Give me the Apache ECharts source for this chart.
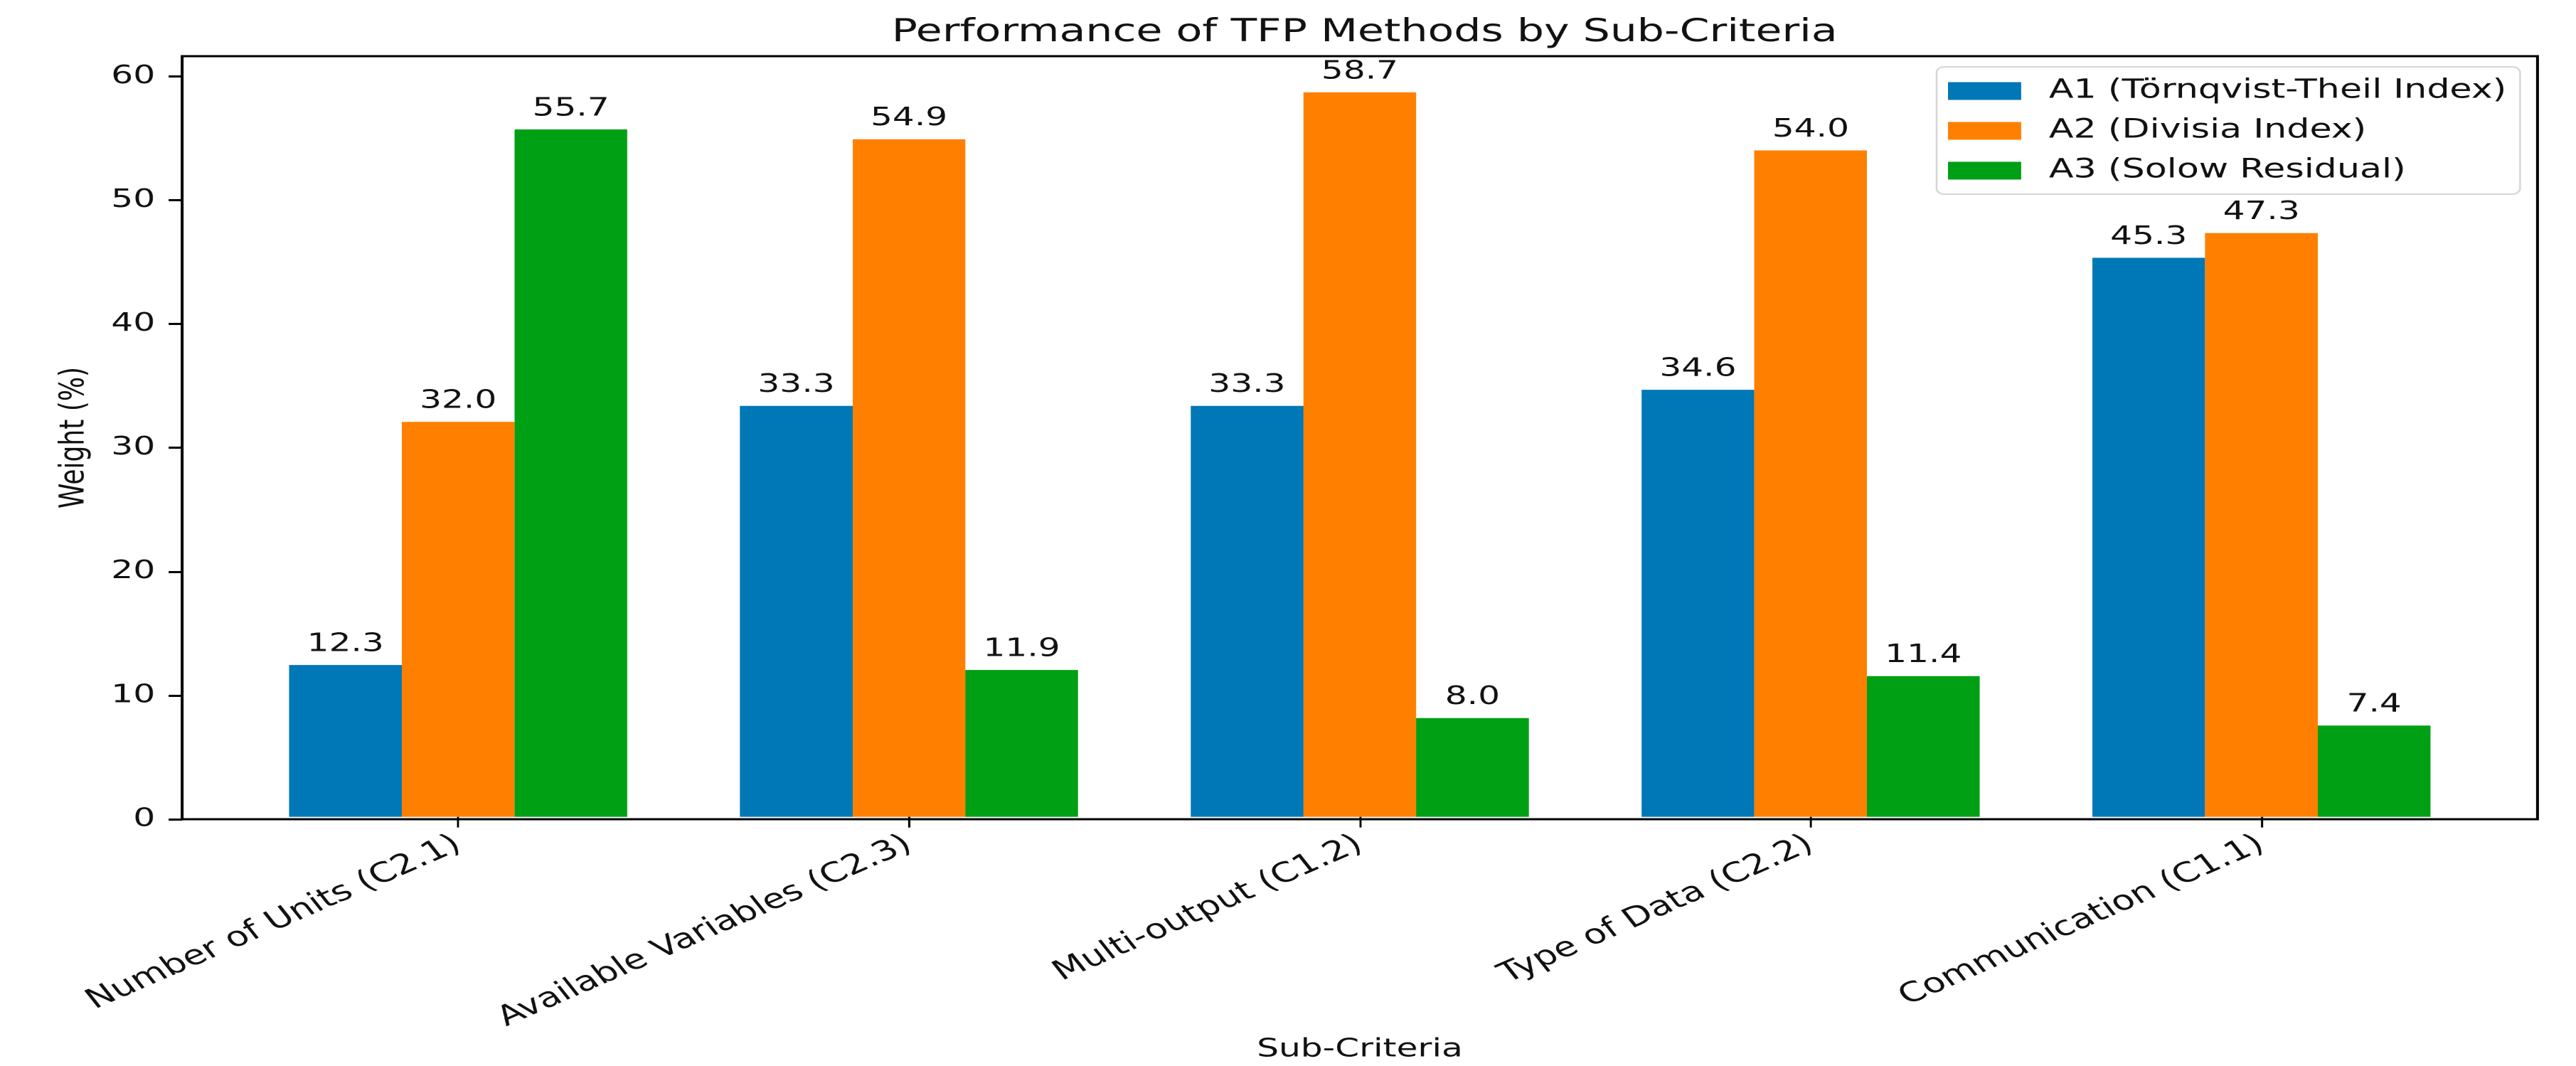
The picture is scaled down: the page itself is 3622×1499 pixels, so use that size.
<!DOCTYPE html>
<html>
<head>
<meta charset="utf-8">
<script src="https://cdn.jsdelivr.net/npm/echarts@6/dist/echarts.min.js"></script>
<style>
html,body{margin:0;padding:0;background:#fff;overflow:hidden;}
#c{width:2683px;height:1499px;transform:scaleX(1.35);transform-origin:0 0;}
</style>
</head>
<body>
<div id="c"></div>
<script>
const categories = ['Number of Units (C2.1)', 'Available Variables (C2.3)', 'Multi-output (C1.2)', 'Type of Data (C2.2)', 'Communication (C1.1)'];
const seriesNames = ['A1 (Törnqvist-Theil Index)', 'A2 (Divisia Index)', 'A3 (Solow Residual)'];
const a1Values = [12.3, 33.3, 33.3, 34.6, 45.3];
const a2Values = [32.0, 54.9, 58.7, 54.0, 47.3];
const a3Values = [55.7, 11.9, 8.0, 11.4, 7.4];
const yTicks = [0, 10, 20, 30, 40, 50, 60];
const colors = ['#0077b6', '#ff8000', '#00a014'];
const yMax = 61.635;

const FONT = 'DejaVu Sans';
const TXT = '#111';
const frame = {left: 189.6, top: 79, width: 2453.3, height: 1073};
const band = frame.width / 5.225;
const inner = {left: frame.left + band * 0.1125, top: frame.top, width: band * 5, height: frame.height};

const chart = echarts.init(document.getElementById('c'), null, {devicePixelRatio: 2});

function barSeries(i, data) {
  return {
    name: seriesNames[i], type: 'bar', xAxisIndex: 1, yAxisIndex: 1,
    data: data, barWidth: band * 0.25, barGap: '0%',
    itemStyle: {color: colors[i]},
    label: {show: true, position: 'top', distance: 11, fontFamily: FONT, fontSize: 36, color: TXT,
      formatter: p => p.value.toFixed(1)}
  };
}

chart.setOption({
  animation: false,
  backgroundColor: '#fff',
  title: {text: 'Performance of TFP Methods by Sub-Criteria', left: frame.left + frame.width / 2, textAlign: 'center', top: 19,
    textStyle: {fontFamily: FONT, fontSize: 44.5, fontWeight: 'normal', color: TXT}},
  legend: {orient: 'vertical', left: 2017, top: 94, padding: [15, 14, 14, 12], itemGap: 18,
    itemWidth: 76, itemHeight: 25, icon: 'rect',
    borderColor: '#d6d6d6', borderWidth: 2, borderRadius: 8, backgroundColor: 'rgba(255,255,255,0.8)',
    textStyle: {fontFamily: FONT, fontSize: 37.5, color: TXT, padding: [0, 0, 0, 24]},
    data: seriesNames},
  grid: [
    {left: frame.left, top: frame.top, width: frame.width, height: frame.height, show: true, borderColor: '#000', borderWidth: 3, backgroundColor: 'transparent'},
    {left: inner.left, top: inner.top, width: inner.width, height: inner.height}
  ],
  xAxis: [
    {type: 'value', gridIndex: 0, min: 0, max: 1, show: false},
    {type: 'category', gridIndex: 1, data: categories,
      axisLine: {show: false},
      axisTick: {show: true, alignWithLabel: true, length: 15, lineStyle: {color: '#000', width: 2.2}},
      axisLabel: {rotate: 30.5, margin: 36, fontFamily: FONT, fontSize: 38.5, color: TXT, interval: 0},
      name: 'Sub-Criteria', nameLocation: 'middle', nameGap: 295,
      nameTextStyle: {fontFamily: FONT, fontSize: 36, color: TXT}}
  ],
  yAxis: [
    {type: 'value', gridIndex: 0, min: 0, max: yMax, interval: 10,
      axisLine: {show: false}, splitLine: {show: false},
      axisTick: {show: true, length: 14, customValues: yTicks, lineStyle: {color: '#000', width: 3}},
      axisLabel: {margin: 28, fontFamily: FONT, fontSize: 36, color: TXT, customValues: yTicks},
      name: 'Weight (%)', nameLocation: 'middle', nameGap: 94,
      nameTextStyle: {fontFamily: FONT, fontSize: 36, color: TXT}},
    {type: 'value', gridIndex: 1, min: 0, max: yMax, show: false, splitLine: {show: false}}
  ],
  series: [barSeries(0, a1Values), barSeries(1, a2Values), barSeries(2, a3Values)]
});
</script>
</body>
</html>
